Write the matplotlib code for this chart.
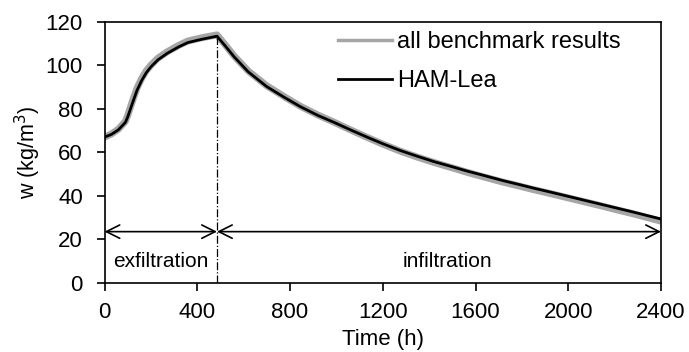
import matplotlib.pyplot as plt

plt.rcParams['font.family'] = ['Liberation Sans', 'DejaVu Sans']

# HAM-Lea result (time in h, moisture content in kg/m3)
time_h = [0, 30, 60, 90, 100, 112, 125, 140, 160, 180, 200, 230, 270, 320, 360, 420, 485,
          520, 560, 620, 700, 780, 845, 920, 990, 1060, 1135, 1200, 1275,
          1350, 1420, 1500, 1565, 1640, 1720, 1790, 1850, 1930, 2000,
          2070, 2140, 2210, 2280, 2340, 2400]
w_hamlea = [67.0, 68.3, 70.4, 73.8, 76.3, 80.0, 84.0, 88.5, 93.0, 96.6, 99.3, 102.5, 105.5, 108.5, 110.5, 112.0, 113.4,
            109.0, 103.8, 97.0, 90.2, 85.0, 81.0, 77.0, 73.8, 70.4, 66.9, 64.0, 60.9,
            58.2, 55.8, 53.4, 51.4, 49.3, 47.0, 45.2, 43.6, 41.6, 39.8,
            38.0, 36.2, 34.4, 32.6, 31.0, 29.4]
# envelope of all benchmark results (drawn as a thick grey band)
w_bench = [67.0, 68.5, 70.7, 74.3, 77.0, 80.9, 85.0, 89.5, 94.0, 97.5, 100.1, 103.3, 106.2, 109.2, 111.2, 112.7, 114.0,
           109.5, 104.2, 97.4, 90.6, 85.3, 81.2, 77.2, 73.9, 70.4, 66.8, 63.8, 60.6,
           57.8, 55.4, 52.9, 50.8, 48.6, 46.3, 44.5, 42.9, 40.9, 39.1,
           37.3, 35.5, 33.6, 31.8, 30.1, 28.4]

switch_t = 485
arrow_y = 23.6

fig, ax = plt.subplots(figsize=(6.89, 3.52), dpi=100)
fig.subplots_adjust(left=0.1517, right=0.9594, top=0.938, bottom=0.196)

ax.plot(time_h, w_bench, color='#a6a6a6', lw=5, label='all benchmark results')
ax.plot(time_h, w_hamlea, color='black', lw=2, label='HAM-Lea')

ax.plot([switch_t, switch_t], [0, 113], color='black', lw=0.9, ls='-.')

arrow = dict(arrowstyle='<->', color='black', lw=1.2, mutation_scale=24,
             shrinkA=0, shrinkB=0)
ax.annotate('', xy=(0, arrow_y), xytext=(switch_t, arrow_y), arrowprops=arrow)
ax.annotate('', xy=(switch_t, arrow_y), xytext=(2400, arrow_y), arrowprops=arrow)
ax.text(242, 7.5, 'exfiltration', ha='center', va='baseline', fontsize=15)
ax.text(1477, 7.5, 'infiltration', ha='center', va='baseline', fontsize=15)

ax.set_xlim(0, 2400)
ax.set_ylim(0, 120)
ax.set_xticks(range(0, 2401, 400))
ax.set_yticks(range(0, 121, 20))
ax.tick_params(direction='out', length=5.5, width=1.2, labelsize=16)
ax.tick_params(axis='x', pad=8.5)
ax.tick_params(axis='y', pad=10)
for s in ax.spines.values():
    s.set_linewidth(1.2)

ax.set_xlabel('Time (h)', fontsize=16, labelpad=4)
ax.set_ylabel('w (kg/m$^3$)', fontsize=15.5, labelpad=2)

leg = ax.legend(loc='upper left', frameon=False, fontsize=17, handlelength=2.3,
                handletextpad=0.2, labelspacing=0.72, borderpad=0, borderaxespad=0,
                bbox_to_anchor=(0.4196, 0.965))
leg.get_lines()[0].set_linewidth(2.5)
leg.get_lines()[1].set_linewidth(2.0)

fig.savefig('out.png', dpi=100)
